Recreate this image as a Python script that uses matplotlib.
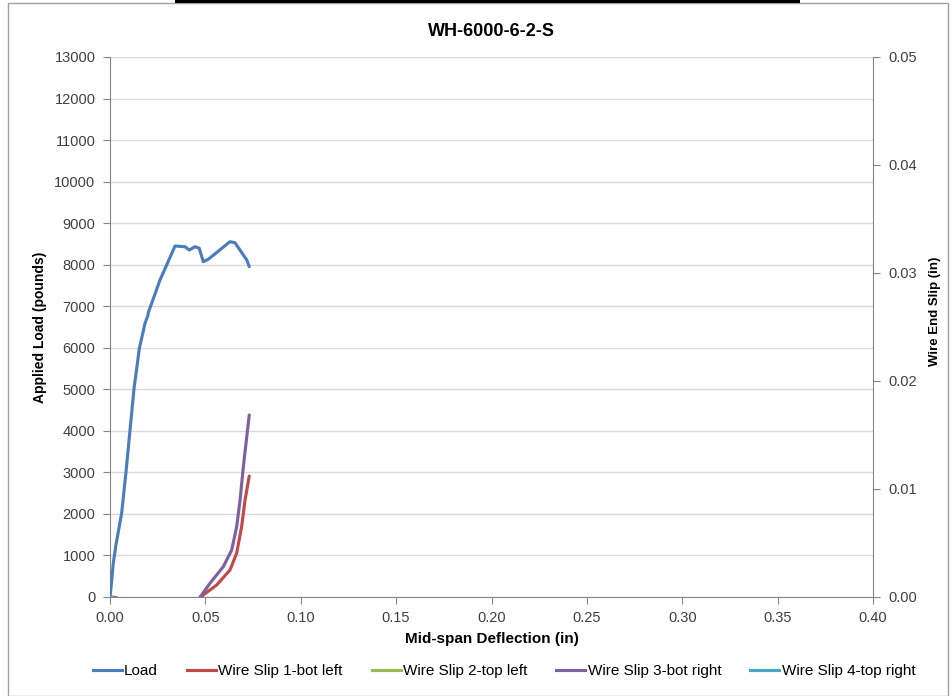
import numpy as np
import matplotlib
matplotlib.use("Agg")
import matplotlib.pyplot as plt
from matplotlib.patches import Rectangle
from matplotlib.lines import Line2D

plt.rcParams['font.family'] = ['Liberation Sans', 'DejaVu Sans']

title = "WH-6000-6-2-S"

load_defl = [0.0, 0.0008, 0.0017, 0.0031, 0.0061, 0.0084, 0.0105, 0.0126, 0.0140,
             0.0154, 0.0184, 0.0199, 0.0201, 0.0227, 0.0262, 0.0297, 0.0341, 0.0393,
             0.0416, 0.0446, 0.0468, 0.0489, 0.0515, 0.0629, 0.0655, 0.0717, 0.0730]
load_vals = [0, 350, 810, 1250, 2015, 3016, 4020, 5024, 5500,
             5990, 6596, 6780, 6850, 7180, 7631, 7992, 8450, 8433,
             8354, 8433, 8394, 8072, 8130, 8553, 8530, 8113, 7952]

slip1_defl = [0.0, 0.0020, 0.0040, np.nan, 0.0480, 0.0489, 0.0559, 0.0629, 0.0664,
              0.0690, 0.0708, 0.0730]
slip1_vals = [0.0, -0.00003, -0.0001, np.nan, 0.0, 0.00019, 0.00111, 0.00250, 0.00405,
              0.00651, 0.00898, 0.01120]

slip2_defl = [0.0, 0.0005]
slip2_vals = [0.0, 0.0]

slip3_defl = [0.0472, 0.0481, 0.0524, 0.0594, 0.0638, 0.0664, 0.0682, 0.0699, 0.0717, 0.0730]
slip3_vals = [0.0, 0.0002, 0.00127, 0.00281, 0.00435, 0.00651, 0.00898, 0.01206, 0.01484, 0.01685]

slip4_defl = [0.0, 0.0008]
slip4_vals = [0.0, 0.0]

x_ticks = [0.00, 0.05, 0.10, 0.15, 0.20, 0.25, 0.30, 0.35, 0.40]
y_ticks = list(range(0, 13001, 1000))
y2_ticks = [0.00, 0.01, 0.02, 0.03, 0.04, 0.05]

c_load = '#4A7EBB'
c_s1 = '#BE4B48'
c_s2 = '#98B954'
c_s3 = '#7D60A0'
c_s4 = '#46AAC5'
axis_gray = '#868686'
grid_gray = '#D9D9D9'

fig = plt.figure(figsize=(9.52, 6.96), dpi=100)
W, H = 952, 696

# outer chart border
fig.patches.append(Rectangle((8 / W, 0), (948 - 8) / W, (696 - 3) / H,
                             transform=fig.transFigure, fill=False,
                             edgecolor='#A0A0A0', linewidth=1.0))
# black bar at top
fig.patches.append(Rectangle((175 / W, 1 - 3 / H), (800 - 175) / W, 3 / H,
                             transform=fig.transFigure, facecolor='black',
                             edgecolor='none'))

ax = fig.add_axes([110 / W, 1 - 597 / H, (873 - 110) / W, (597 - 57) / H])
ax2 = ax.twinx()

ax.set_xlim(0, 0.40)
ax.set_ylim(0, 13000)
ax2.set_ylim(0, 0.05)

ax.set_xticks(x_ticks)
ax.set_xticklabels([f"{v:.2f}" for v in x_ticks])
ax.set_yticks(y_ticks)
ax.set_yticklabels([str(v) for v in y_ticks])
ax2.set_yticks(y2_ticks)
ax2.set_yticklabels([f"{v:.2f}" for v in y2_ticks])

ax.grid(axis='y', color=grid_gray, linewidth=1.0)
ax.set_axisbelow(True)

for a in (ax, ax2):
    for s in a.spines.values():
        s.set_color(axis_gray)
    a.spines['top'].set_visible(False)
ax.spines['right'].set_visible(False)
ax2.spines['left'].set_visible(False)
ax2.spines['bottom'].set_visible(False)

ax.tick_params(axis='both', direction='out', length=5, color=axis_gray,
               labelsize=10.5, labelcolor='#404040')
ax2.tick_params(axis='y', direction='out', length=5, color=axis_gray,
                labelsize=10.5, labelcolor='#404040', pad=6)
ax.tick_params(axis='y', pad=5.5)
ax.tick_params(axis='x', pad=5)

lw = 2.25
ax.plot(load_defl, load_vals, color=c_load, lw=lw, solid_capstyle='round',
        solid_joinstyle='round', zorder=5)
ax2.plot(slip1_defl, slip1_vals, color=c_s1, lw=lw, solid_capstyle='round',
         solid_joinstyle='round', zorder=5)
ax2.plot(slip2_defl, slip2_vals, color=c_s2, lw=lw, zorder=5)
ax2.plot(slip3_defl, slip3_vals, color=c_s3, lw=lw, solid_capstyle='round',
         solid_joinstyle='round', zorder=6)
ax2.plot(slip4_defl, slip4_vals, color=c_s4, lw=lw, zorder=5)
ax2.set_zorder(ax.get_zorder() + 1)
ax2.patch.set_visible(False)

ax.set_title(title, fontsize=13, fontweight='bold', pad=15)
ax.set_xlabel("Mid-span Deflection (in)", labelpad=5, fontsize=11, fontweight='bold')
ax.set_ylabel("Applied Load (pounds)", fontsize=10, fontweight='bold',
              va='center', ha='center')
ax.yaxis.set_label_coords((40 - 110) / 763, 0.5)
ax2.set_ylabel("Wire End Slip (in)", fontsize=9.5, fontweight='bold',
               va='center', ha='center')
ax2.yaxis.set_label_coords((935 - 110) / 763, (597 - 311) / 540)

handles = [Line2D([0], [0], color=c, lw=lw) for c in (c_load, c_s1, c_s2, c_s3, c_s4)]
labels = ["Load", "Wire Slip 1-bot left", "Wire Slip 2-top left",
          "Wire Slip 3-bot right", "Wire Slip 4-top right"]
fig.legend(handles, labels, loc='center', bbox_to_anchor=(504 / W, 1 - 671 / H),
           ncol=5, frameon=False, handlelength=1.9, handletextpad=0.15,
           columnspacing=1.9, prop=dict(size=11))

fig.savefig("out.png", dpi=100)
